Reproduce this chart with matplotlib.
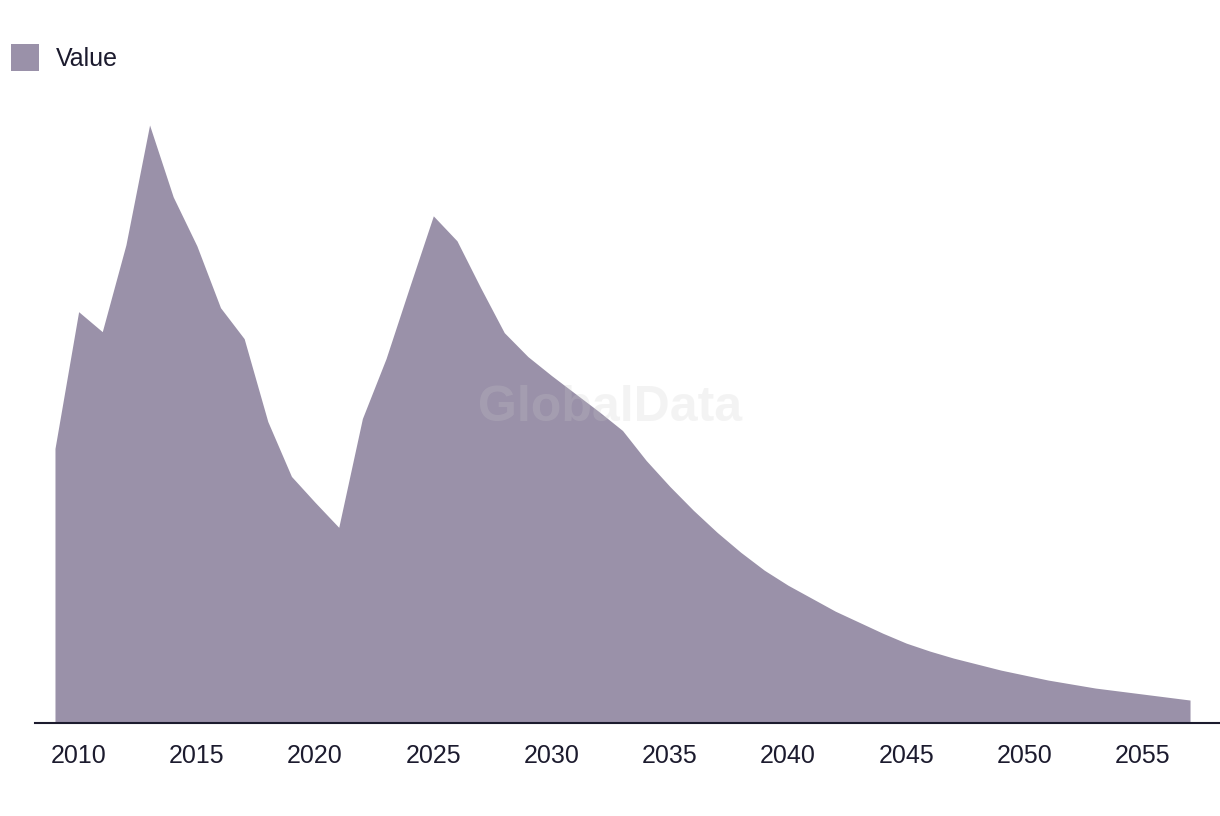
import matplotlib
matplotlib.use("Agg")
import matplotlib.pyplot as plt

# yearly values (arbitrary units, no y axis shown)
years = list(range(2009, 2058))
values = [275, 412, 392, 479, 599, 527, 478, 416, 385, 302,
          247, 221, 196, 305, 365, 437, 508, 483, 436, 391,
          367, 348, 330, 312, 293, 263, 237, 213, 191, 171,
          153, 138, 125, 112, 101, 90, 80, 72, 65, 59,
          53, 48, 43, 39, 35, 32, 29, 26, 23]
tick_years = list(range(2010, 2060, 5))
series_name = "Value"

FILL = "#9a91a9"
INK = "#1c1b2e"

plt.rcParams["font.family"] = ["Liberation Sans", "DejaVu Sans"]

W, H = 1220, 816
fig = plt.figure(figsize=(W / 100, H / 100), dpi=100)
# axes placed in pixel terms: left 35, right edge, baseline at y=723, top at y=100
ax = fig.add_axes([35 / W, (H - 723) / H, (W - 35) / W, (723 - 100) / H])

area = ax.fill_between(years, values, 0, color=FILL, linewidth=0, label=series_name)

ax.set_xlim(2009 - 20 / 23.67, 2057 + 30 / 23.67)
ax.set_ylim(0, 599 * 623 / 598)

for side in ["top", "right", "left"]:
    ax.spines[side].set_visible(False)
ax.spines["bottom"].set_color(INK)
ax.spines["bottom"].set_linewidth(1.5)
ax.set_yticks([])
ax.set_xticks(tick_years)
ax.set_xticklabels([str(y) for y in tick_years])
ax.tick_params(axis="x", length=0, pad=15, labelsize=18, labelcolor=INK)

# watermark
ax.text(0.5, 1 - 408 / H, "GlobalData", transform=fig.transFigure, ha="center", va="center",
        fontsize=36, fontweight="bold", color=(0.8, 0.8, 0.8), alpha=0.22, zorder=5)

fig.legend(handles=[area], loc="upper left", bbox_to_anchor=(1 / W, 1 - 34 / H),
           frameon=False, fontsize=18, labelcolor=INK,
           handlelength=1.12, handleheight=1.31, handletextpad=0.68, borderaxespad=0)

fig.savefig("out.png", dpi=100)
